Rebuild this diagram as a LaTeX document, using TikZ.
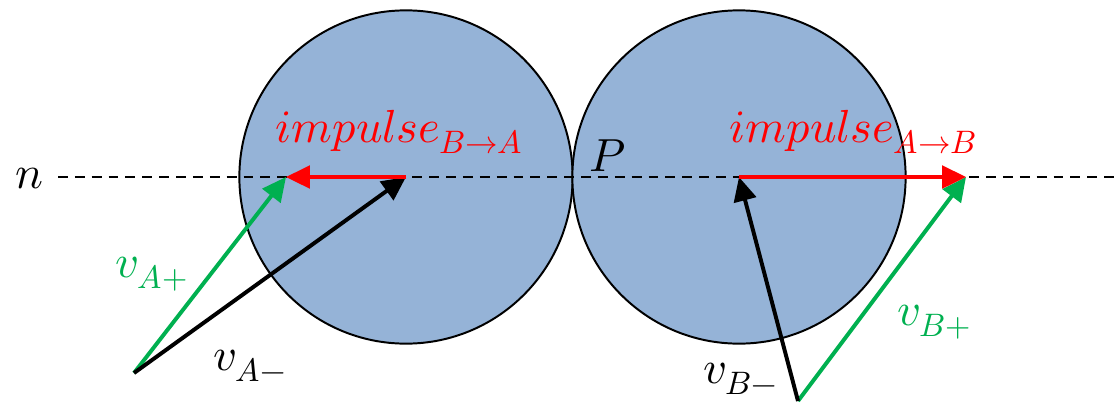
\documentclass[tikz,border=0pt]{standalone}
\usepackage{unicode-math}
\usetikzlibrary{arrows.meta}
\definecolor{ballblue}{HTML}{95B3D7}
\definecolor{vgreen}{HTML}{00B050}
\definecolor{ired}{HTML}{FF0000}
\begin{document}
\begin{tikzpicture}[x=0.025cm,y=-0.025cm,
  ball/.style={circle,draw=black,line width=1.4pt,fill=ballblue,minimum size=8.33cm,inner sep=0},
  vec/.style={line width=2.8pt,-{Triangle[length=17pt,width=16pt]}},
  lbl/.style={anchor=base west,inner sep=0,font=\fontsize{33}{40}\selectfont}]
\useasboundingbox (0,0) rectangle (1114,403);
\node[ball] (A) at (406,177) {};
\node[ball] (B) at (739,177) {};
\coordinate (nL) at (58,177);
\coordinate (nR) at (1114,177);
\draw[dashed,line width=1.1pt,dash pattern=on 7pt off 5pt] (nL) -- (nR);
\coordinate (tipA) at (286,177);
\coordinate (tipB) at (966,177);
\coordinate (tailA) at (134,373);
\coordinate (tailB) at (798,401);
\draw[vec,vgreen] (tailA) -- (tipA);
\draw[vec,black] (tailA) -- (A.center);
\draw[vec,vgreen] (tailB) -- (tipB);
\draw[vec,black] (tailB) -- (B.center);
\draw[vec,ired] (A.center) -- (tipA);
\draw[vec,ired] (B.center) -- (tipB);
\node[lbl] (ln) at (15,188) {$n$};
\node[lbl] (lP) at (589,171) {$P$};
\node[lbl,text=ired] (lIA) at (275,142) {$impulse_{B\rightarrow A}$};
\node[lbl,text=ired] (lIB) at (729,142) {$impulse_{A\rightarrow B}$};
\node[lbl,text=vgreen] (lvAp) at (115,277) {$v_{A+}$};
\node[lbl] (lvAm) at (213,370) {$v_{A-}$};
\node[lbl,text=vgreen] (lvBp) at (897,325) {$v_{B+}$};
\node[lbl] (lvBm) at (703,383) {$v_{B-}$};
\end{tikzpicture}
\end{document}
